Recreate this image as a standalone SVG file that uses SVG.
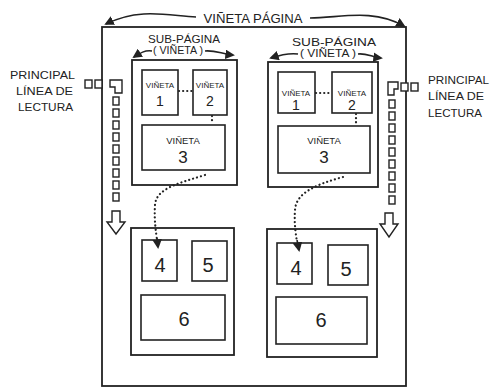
<svg xmlns="http://www.w3.org/2000/svg" width="490" height="389" viewBox="0 0 490 389">
<style>
.box{fill:none;stroke:#222;stroke-width:1.8}
.vbox{fill:#fff;stroke:#222;stroke-width:1.6}
.sq{fill:#fff;stroke:#222;stroke-width:1.4}
.lbl{font-family:"Liberation Sans",Arial,sans-serif;fill:#222;text-anchor:middle}
.side{font-family:"Liberation Sans",Arial,sans-serif;fill:#222;font-size:11px}
.num{font-family:"Liberation Sans",Arial,sans-serif;fill:#222;text-anchor:middle;font-size:20px}
.dots{fill:none;stroke:#222;stroke-width:2.2;stroke-linecap:round;stroke-dasharray:0.1 4}
.arr{fill:none;stroke:#222;stroke-width:1.6}
</style>
<defs>
<marker id="ah" viewBox="0 0 10 10" refX="8" refY="5" markerWidth="6" markerHeight="6" orient="auto-start-reverse">
<path d="M0,0 L10,5 L0,10 Z" fill="#222"/>
</marker>
</defs>
<rect width="490" height="389" fill="#fff"/>

<g id="page">
<rect class="box" x="102" y="27" width="304" height="359"/>
<text class="lbl" x="253" y="23" font-size="12" textLength="99" lengthAdjust="spacingAndGlyphs">VIÑETA PÁGINA</text>
</g>

<g id="subpage-label-left">
<text class="lbl" x="184" y="43" font-size="10.5" textLength="72" lengthAdjust="spacingAndGlyphs">SUB-PÁGINA</text>
<text class="lbl" x="178" y="54" font-size="10" textLength="50" lengthAdjust="spacingAndGlyphs">( VIÑETA )</text>
</g>
<g id="subpage-label-right">
<text class="lbl" x="334" y="46" font-size="10.5" textLength="84" lengthAdjust="spacingAndGlyphs">SUB-PÁGINA</text>
<text class="lbl" x="328" y="57" font-size="10" textLength="56" lengthAdjust="spacingAndGlyphs">( VIÑETA )</text>
</g>

<g id="subpage-1">
<rect class="box" x="132" y="60" width="105" height="125"/>
<g id="v1-1"><rect class="vbox" x="142" y="70" width="36" height="45"/>
<text class="lbl" x="160" y="88" font-size="8">VIÑETA</text><text class="lbl" x="160" y="106" font-size="14">1</text></g>
<g id="v1-2"><rect class="vbox" x="193" y="70" width="34" height="45"/>
<text class="lbl" x="210" y="88" font-size="8">VIÑETA</text><text class="lbl" x="210" y="106" font-size="14">2</text></g>
<g id="v1-3"><rect class="vbox" x="142" y="125" width="83" height="45"/>
<text class="lbl" x="183" y="144" font-size="9.5">VIÑETA</text><text class="lbl" x="183" y="163" font-size="17">3</text></g>
</g>

<g id="subpage-2">
<rect class="box" x="268" y="62" width="110" height="125"/>
<g id="v2-1"><rect class="vbox" x="278" y="72" width="37" height="41"/>
<text class="lbl" x="296" y="96" font-size="8">VIÑETA</text><text class="lbl" x="296" y="110" font-size="14">1</text></g>
<g id="v2-2"><rect class="vbox" x="332" y="72" width="40" height="41"/>
<text class="lbl" x="352" y="96" font-size="8">VIÑETA</text><text class="lbl" x="352" y="110" font-size="14">2</text></g>
<g id="v2-3"><rect class="vbox" x="278" y="126" width="92" height="47"/>
<text class="lbl" x="324" y="144" font-size="9.5">VIÑETA</text><text class="lbl" x="324" y="163" font-size="17">3</text></g>
</g>

<g id="subpage-3">
<rect class="box" x="131" y="228" width="103" height="127"/>
<g id="v3-4"><rect class="vbox" x="142" y="240" width="35" height="41"/><text class="num" x="160" y="272">4</text></g>
<g id="v3-5"><rect class="vbox" x="192" y="241" width="35" height="40"/><text class="num" x="208" y="272">5</text></g>
<g id="v3-6"><rect class="vbox" x="141" y="295" width="84" height="45"/><text class="num" x="184" y="326">6</text></g>
</g>

<g id="subpage-4">
<rect class="box" x="267" y="229" width="110" height="128"/>
<g id="v4-4"><rect class="vbox" x="277" y="243" width="35" height="41"/><text class="num" x="296" y="275">4</text></g>
<g id="v4-5"><rect class="vbox" x="328" y="245" width="40" height="40"/><text class="num" x="346" y="276">5</text></g>
<g id="v4-6"><rect class="vbox" x="276" y="297" width="91" height="47"/><text class="num" x="321" y="327">6</text></g>
</g>

<g id="reading-line-left">
<text class="side" x="10" y="79" textLength="65" lengthAdjust="spacingAndGlyphs">PRINCIPAL</text>
<text class="side" x="16" y="95" textLength="57" lengthAdjust="spacingAndGlyphs">LÍNEA DE</text>
<text class="side" x="18" y="111" textLength="55" lengthAdjust="spacingAndGlyphs">LECTURA</text>
<rect class="sq" x="85" y="80" width="7" height="8"/>
<rect class="sq" x="95" y="80" width="7" height="8"/>
<path class="sq" d="M110,80 H122 V93 H115 V87 H110 Z"/>
<rect class="sq" x="113" y="97" width="6" height="8"/>
<rect class="sq" x="113" y="109" width="6" height="8"/>
<rect class="sq" x="113" y="121" width="6" height="8"/>
<rect class="sq" x="113" y="133" width="6" height="8"/>
<rect class="sq" x="113" y="145" width="6" height="8"/>
<rect class="sq" x="113" y="157" width="6" height="8"/>
<rect class="sq" x="113" y="169" width="6" height="8"/>
<rect class="sq" x="113" y="181" width="6" height="8"/>
<rect class="sq" x="113" y="193" width="6" height="8"/>
<path class="sq" d="M112,211 H120 V222 H125 L116,234 L107,222 H112 Z"/>
</g>

<g id="reading-line-right">
<text class="side" x="428" y="84" textLength="61" lengthAdjust="spacingAndGlyphs">PRINCIPAL</text>
<text class="side" x="428" y="100" textLength="56" lengthAdjust="spacingAndGlyphs">LÍNEA DE</text>
<text class="side" x="428" y="117" textLength="54" lengthAdjust="spacingAndGlyphs">LECTURA</text>
<rect class="sq" x="401" y="83" width="7" height="8"/>
<rect class="sq" x="411" y="83" width="7" height="8"/>
<path class="sq" d="M398,82 H388 V95 H394 V89 H398 Z"/>
<rect class="sq" x="389" y="100" width="6" height="8"/>
<rect class="sq" x="389" y="112" width="6" height="8"/>
<rect class="sq" x="389" y="124" width="6" height="8"/>
<rect class="sq" x="389" y="136" width="6" height="8"/>
<rect class="sq" x="389" y="148" width="6" height="8"/>
<rect class="sq" x="389" y="160" width="6" height="8"/>
<rect class="sq" x="389" y="172" width="6" height="8"/>
<rect class="sq" x="389" y="184" width="6" height="8"/>
<rect class="sq" x="389" y="196" width="6" height="8"/>
<path class="sq" d="M385,213 H393 V224 H398 L389,237 L380,224 H385 Z"/>
</g>

<g id="connectors">
<path class="arr" d="M196,17 C170,16 140,7 106,24" marker-end="url(#ah)"/>
<path class="arr" d="M310,18 C340,18 372,8 404,26" marker-end="url(#ah)"/>
<path class="arr" d="M152,51 C145,50 140,53 134,57" marker-end="url(#ah)"/>
<path class="arr" d="M205,51 C215,50 222,54 233,55" marker-end="url(#ah)"/>
<path class="arr" d="M298,54 C290,53 280,55 271,58" marker-end="url(#ah)"/>
<path class="arr" d="M358,54 C366,53 372,57 381,58" marker-end="url(#ah)"/>
<path class="dots" d="M179,91 H192"/>
<path class="dots" d="M316,93 H331"/>
<path class="dots" d="M212,116 V124"/>
<path class="dots" d="M356,114 V125"/>
<path class="dots" d="M205,175 C180,183 156,188 155,205 C154,220 156,232 157,240"/>
<path class="arr" d="M157,238 L158,247" marker-end="url(#ah)"/>
<path class="dots" d="M343,177 C318,184 296,192 295,210 C294,225 296,235 297,242"/>
<path class="arr" d="M297,240 L299,250" marker-end="url(#ah)"/>
</g>
</svg>
